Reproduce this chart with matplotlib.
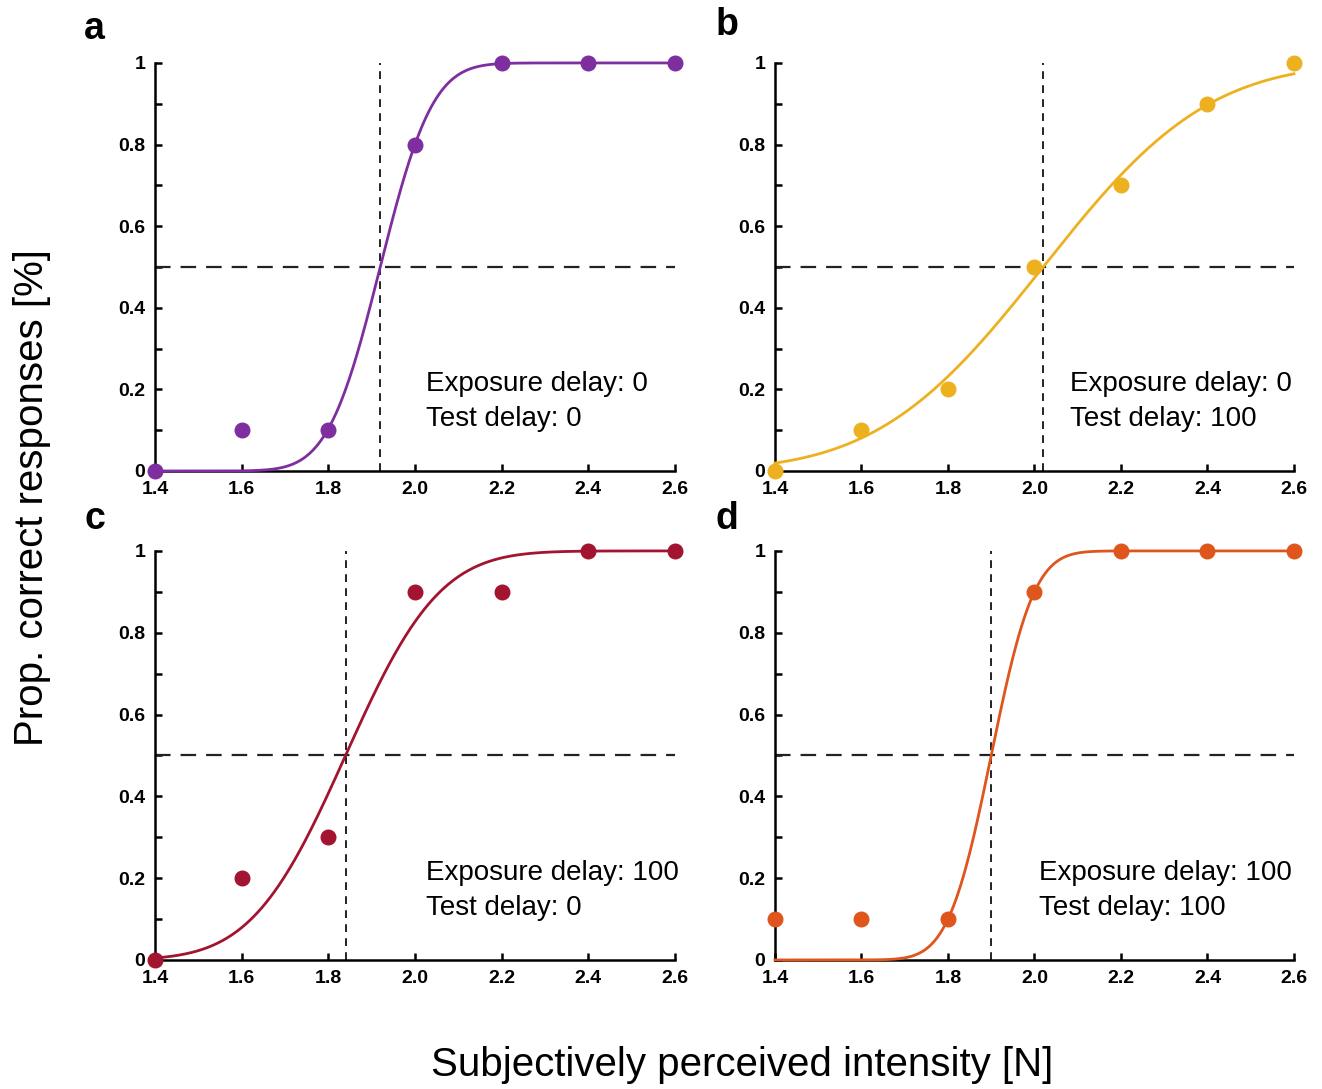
import math
import numpy as np
import matplotlib
matplotlib.use("Agg")
import matplotlib.pyplot as plt
from matplotlib.ticker import MultipleLocator, FixedLocator

plt.rcParams['font.family'] = ['Liberation Sans', 'DejaVu Sans']

# intensities tested
intensity = [1.4, 1.6, 1.8, 2.0, 2.2, 2.4, 2.6]

# proportion correct per condition
prop_a = [0.0, 0.1, 0.1, 0.8, 1.0, 1.0, 1.0]
prop_b = [0.0, 0.1, 0.2, 0.5, 0.7, 0.9, 1.0]
prop_c = [0.0, 0.2, 0.3, 0.9, 0.9, 1.0, 1.0]
prop_d = [0.1, 0.1, 0.1, 0.9, 1.0, 1.0, 1.0]

# fitted psychometric functions (cumulative normal): threshold, width
thresh = [1.92, 2.02, 1.84, 1.90]
width = [0.095, 0.30, 0.17, 0.078]

exposure = [0, 0, 100, 100]
test = [0, 100, 0, 100]
labels = ['a', 'b', 'c', 'd']
colors = ['#7E2E9E', '#EDB120', '#A2142F', '#DE561C']

xticks = [1.4, 1.6, 1.8, 2.0, 2.2, 2.4, 2.6]


def cum_normal(x, mu, sd):
    return np.array([0.5 * (1 + math.erf((v - mu) / (sd * math.sqrt(2)))) for v in x])


fig = plt.figure(figsize=(13.22, 10.89), dpi=100)

positions = [
    [0.1172, 0.5675, 0.3933, 0.3747],
    [0.5862, 0.5675, 0.3926, 0.3747],
    [0.1172, 0.1185, 0.3933, 0.3756],
    [0.5862, 0.1185, 0.3926, 0.3756],
]
text_x = [0.521, 0.568, 0.521, 0.509]
label_pos = [(0.071, 0.973), (0.550, 0.977), (0.072, 0.523), (0.550, 0.523)]

all_props = [prop_a, prop_b, prop_c, prop_d]

for i in range(4):
    ax = fig.add_axes(positions[i])
    col = colors[i]

    xs = np.linspace(1.4, 2.6, 400)
    ax.plot(xs, cum_normal(xs, thresh[i], width[i]), color=col, lw=2.0,
            clip_on=False, zorder=3)
    ax.plot(intensity, all_props[i], 'o', color=col, ms=10.5, clip_on=False,
            zorder=4)

    ax.axhline(0.5, color='#222222', lw=1.6, dashes=(7, 4.5), zorder=2)
    ax.axvline(thresh[i], color='#222222', lw=1.4, dashes=(4, 3.2), zorder=2)

    ax.set_xlim(1.4, 2.6)
    ax.set_ylim(0, 1)
    ax.spines['top'].set_visible(False)
    ax.spines['right'].set_visible(False)
    for s in ['left', 'bottom']:
        ax.spines[s].set_linewidth(1.8)

    ax.xaxis.set_major_locator(FixedLocator(xticks))
    ax.set_xticklabels([f"{t:.1f}" for t in xticks])
    ax.yaxis.set_minor_locator(MultipleLocator(0.1))
    ax.set_yticks([0, 0.2, 0.4, 0.6, 0.8, 1.0])
    ax.set_yticklabels(['0', '0.2', '0.4', '0.6', '0.8', '1'])
    ax.tick_params(axis='both', which='both', direction='in', length=5,
                   width=1.8, labelsize=14)
    ax.tick_params(axis='x', pad=7)
    ax.tick_params(axis='y', pad=7)
    for lab in ax.get_xticklabels() + ax.get_yticklabels():
        lab.set_fontweight('bold')

    ax.text(text_x[i], 0.213, f"Exposure delay: {exposure[i]}",
            transform=ax.transAxes, fontsize=20, va='center', ha='left')
    ax.text(text_x[i], 0.128, f"Test delay: {test[i]}",
            transform=ax.transAxes, fontsize=20, va='center', ha='left')

    fig.text(label_pos[i][0], label_pos[i][1], labels[i], fontsize=27,
             fontweight='bold', ha='center', va='center')

fig.text(0.024, 0.543, "Prop. correct responses [%]", rotation=90,
         fontsize=29, ha='center', va='center')
fig.text(0.561, 0.022, "Subjectively perceived intensity [N]",
         fontsize=29, ha='center', va='center')

fig.savefig("out.png", dpi=100)
